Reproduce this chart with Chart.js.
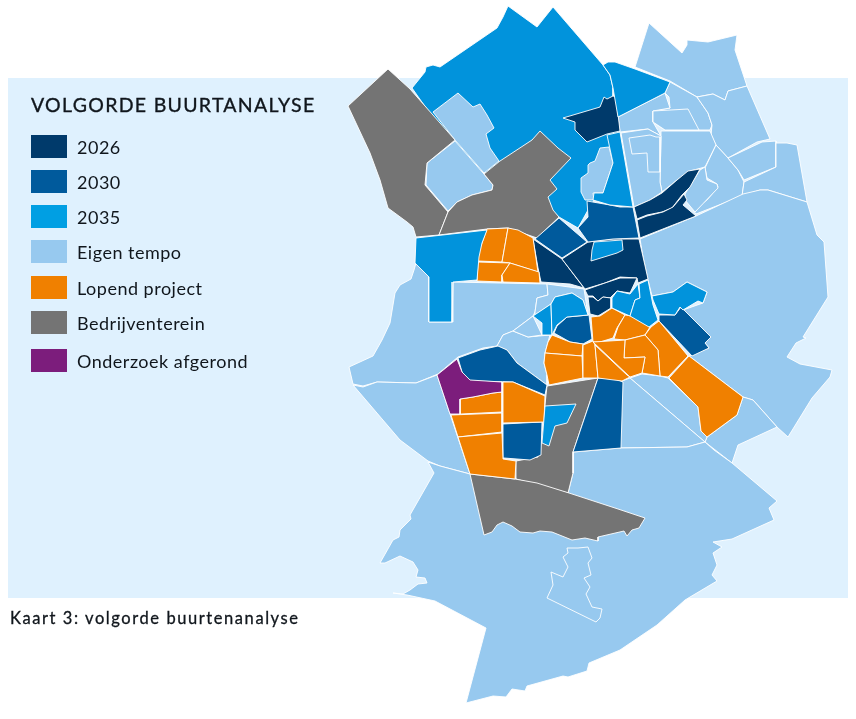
<!DOCTYPE html>
<html>
<head>
<meta charset="utf-8">
<title>Volgorde buurtanalyse</title>
<script src="https://cdn.jsdelivr.net/npm/chart.js@4"></script>
<style>
    html, body { margin: 0; background: #fff; }
    body { width: 856px; height: 719px; position: relative; overflow: hidden; font-family: Lato, sans-serif; color: #10161c; }
    .panel { position: absolute; left: 8px; top: 78px; width: 840px; height: 520px; background: #dff1fe; }
    canvas { position: absolute; left: 0; top: 0; }
    .title { position: absolute; left: 31px; top: 93px; font-size: 19.5px; font-weight: 400; -webkit-text-stroke: .35px #10161c; letter-spacing: 1.3px; line-height: 24px; white-space: nowrap; }
    .row { position: absolute; left: 31px; height: 23px; white-space: nowrap; }
    .row i { position: absolute; left: 0; top: 0; width: 36px; height: 23px; }
    .row span { position: absolute; left: 46px; top: 0; font-size: 18px; line-height: 24px; letter-spacing: .5px; }
    .caption { position: absolute; left: 10px; top: 608px; font-size: 16.5px; font-weight: 400; -webkit-text-stroke: .3px #10161c; line-height: 20px; letter-spacing: 1.57px; white-space: nowrap; }
</style>
</head>
<body>
<div class="panel"></div>
<canvas id="map" width="856" height="719"></canvas>
<div class="title" id="title"></div>
<div id="legend"></div>
<div class="caption" id="caption"></div>
<script>
const titleText = 'VOLGORDE BUURTANALYSE';
const captionText = 'Kaart 3: volgorde buurtenanalyse';
const categories = ['2026', '2030', '2035', 'Eigen tempo', 'Lopend project', 'Bedrijventerein', 'Onderzoek afgerond'];
const legendColors = ['#003a6b', '#005a9c', '#009fe3', '#97c9ef', '#f08000', '#747474', '#7c1d7c'];
const rowTops = [135, 170, 205, 240, 276, 311, 349];

// map outlines, x / y in map units
const base2035 = [
    [[412,88],[425,72],[426,67],[433,65],[440,67],[497,28],[503,17],[508,6],[537,27],[553,7],[603,65],[610,75],[613,88],[613,96],[620,133],[633,207],[610,205],[594,200],[588,210],[578,228],[559,217],[540,200],[480,170],[436,122]],
];
const areasEigen = [
    [[433,112],[458,93],[473,107],[480,104],[487,115],[494,128],[486,134],[490,148],[499,161],[484,173],[455,140]],
    [[455,141],[484,174],[493,185],[492,190],[472,195],[457,202],[448,211],[426,185],[427,163]],
    [[590,163],[595,161],[600,148],[609,147],[613,163],[605,187],[603,193],[593,193],[594,200],[585,200],[581,192],[581,178],[588,173],[588,165]],
    [[635,67],[649,23],[682,53],[687,45],[687,40],[708,42],[737,35],[735,50],[747,86],[728,91],[725,100],[713,94],[697,97],[670,81]],
    [[670,82],[697,97],[708,113],[712,125],[710,130],[665,130],[653,122],[653,111],[670,108],[669,97],[665,93]],
    [[618,117],[665,93],[670,108],[653,111],[653,122],[661,136],[648,129],[620,132]],
    [[653,111],[688,109],[699,130],[665,130],[653,122]],
    [[697,97],[713,94],[725,100],[728,91],[747,86],[770,139],[757,142],[728,158],[716,145],[711,135],[712,125],[708,113]],
    [[661,131],[710,131],[716,145],[705,167],[690,171],[677,180],[662,192],[660,182],[661,136]],
    [[621,133],[648,129],[661,136],[660,182],[662,192],[650,200],[634,207]],
    [[629,138],[650,135],[656,137],[660,137],[660,172],[648,172],[647,153],[632,154]],
    [[716,145],[728,158],[738,170],[744,182],[742,196],[696,214],[693,210],[707,200],[718,187],[717,184],[707,178],[705,168]],
    [[705,167],[707,180],[717,184],[718,188],[695,212],[685,200],[685,194],[700,170]],
    [[728,158],[762,142],[776,141],[776,167],[744,180],[738,170]],
    [[776,143],[787,143],[797,145],[807,202],[768,190],[760,190],[742,196],[744,182],[776,167]],
    [[640,239],[696,216],[743,194],[760,190],[768,190],[807,202],[817,235],[824,242],[828,297],[803,337],[806,338],[796,343],[787,357],[800,364],[832,370],[830,377],[812,398],[788,437],[777,427],[753,400],[743,397],[689,356],[709,348],[705,343],[711,337],[681,307],[683,310],[703,303],[707,292],[687,282],[673,292],[652,296],[648,280],[643,257]],
    [[743,397],[753,400],[777,427],[738,445],[732,463],[705,442],[707,437],[737,415]],
    [[630,378],[642,374],[660,376],[668,378],[698,407],[701,431],[707,437],[705,442]],
    [[622,381],[630,378],[705,442],[687,447],[620,448]],
    [[416,263],[429,277],[429,322],[452,322],[453,282],[547,284],[548,295],[537,298],[535,312],[533,316],[513,331],[503,335],[497,346],[483,348],[458,357],[438,374],[416,383],[377,382],[363,386],[353,384],[349,367],[373,356],[382,340],[390,323],[393,305],[395,293],[400,285],[411,279],[414,270]],
    [[353,385],[363,387],[377,382],[416,383],[437,375],[450,414],[470,474],[440,466],[428,461],[400,440]],
    [[497,346],[503,335],[513,331],[528,337],[550,335],[548,342],[545,353],[544,363],[547,375],[547,385],[517,363],[507,350]],
    [[513,331],[533,316],[542,335],[528,337]],
    [[548,295],[547,284],[584,289],[588,315],[583,300],[572,293],[555,297],[551,304],[535,315],[535,312],[537,298]],
    [[428,462],[434,473],[410,515],[411,519],[400,530],[399,537],[393,540],[380,563],[385,563],[400,556],[413,562],[418,570],[416,577],[425,578],[427,583],[418,584],[410,590],[403,594],[393,593],[407,595],[435,601],[486,628],[466,703],[493,696],[506,697],[512,689],[525,691],[527,686],[563,676],[568,677],[587,671],[589,663],[620,650],[657,625],[685,600],[717,581],[712,575],[717,565],[713,553],[722,547],[713,542],[732,539],[774,520],[769,508],[777,501],[732,463],[714,450],[705,442],[687,447],[620,448],[573,452],[573,473],[568,493],[470,474],[440,466]],
    [[567,548],[578,548],[588,547],[592,558],[588,563],[591,575],[584,578],[590,587],[586,594],[592,607],[602,609],[600,618],[596,622],[547,598],[553,585],[551,572],[563,577],[568,567],[563,557],[568,553]],
];
const areasBedrijf = [
    [[388,69],[410,89],[455,140],[427,163],[425,185],[448,212],[439,235],[416,237],[413,227],[407,222],[388,208],[380,180],[370,153],[348,106]],
    [[540,131],[558,148],[571,158],[550,180],[557,189],[548,197],[553,210],[559,217],[537,238],[508,228],[487,229],[439,235],[448,212],[457,202],[472,195],[492,190],[493,185],[484,174],[500,161],[532,140]],
    [[547,386],[598,378],[573,452],[573,473],[568,493],[516,479],[516,461],[538,457],[541,444],[545,405],[546,395]],
    [[470,474],[515,479],[537,483],[569,493],[618,509],[645,518],[639,528],[632,530],[627,536],[624,531],[598,537],[598,541],[585,538],[572,540],[552,532],[540,531],[533,533],[520,532],[512,526],[503,522],[497,525],[492,532],[484,535]],
];
const areas2026 = [
    [[563,118],[590,110],[600,107],[604,97],[607,99],[613,96],[616,97],[620,131],[607,134],[587,142],[575,130],[575,122]],
    [[634,207],[650,200],[662,193],[677,180],[688,171],[700,169],[690,187],[682,195],[672,208],[662,212],[647,215],[637,219]],
    [[637,220],[647,216],[663,212],[673,207],[684,194],[687,200],[683,205],[696,216],[640,238]],
    [[533,239],[562,259],[584,288],[570,284],[541,282],[538,268]],
    [[562,259],[588,242],[613,239],[639,239],[648,279],[638,283],[637,278],[620,277],[605,283],[585,289]],
    [[585,290],[605,283],[620,278],[637,278],[630,293],[617,291],[610,298],[603,297],[598,301],[593,296],[588,296]],
    [[588,297],[593,297],[598,301],[603,297],[611,298],[611,308],[598,316],[590,314]],
];
const areas2030 = [
    [[559,218],[587,242],[562,258],[535,239]],
    [[587,201],[610,205],[620,207],[633,207],[639,238],[613,239],[588,242],[578,228],[588,217]],
    [[659,315],[675,315],[681,307],[711,337],[705,343],[709,348],[692,356],[659,321]],
    [[557,326],[567,317],[589,315],[592,339],[583,344],[570,342],[554,333]],
    [[503,424],[542,422],[541,455],[530,460],[504,458]],
    [[598,378],[613,378],[623,382],[621,448],[573,452]],
    [[458,358],[480,350],[498,346],[507,350],[517,363],[547,385],[545,395],[513,382],[470,381],[465,377],[462,372]],
];
const areasLopend = [
    [[487,229],[508,228],[502,262],[478,261],[476,258],[482,243]],
    [[508,228],[518,230],[533,238],[538,272],[510,263],[502,262]],
    [[478,262],[510,263],[502,275],[502,282],[477,281]],
    [[510,263],[539,272],[540,283],[503,282],[502,275]],
    [[591,317],[600,316],[612,308],[625,315],[617,328],[613,338],[600,342],[593,342]],
    [[625,315],[632,316],[650,327],[645,335],[625,340],[614,339],[618,327]],
    [[659,321],[688,356],[668,377],[660,376],[658,350],[652,343],[645,335],[651,327]],
    [[645,335],[625,340],[624,358],[645,357],[642,373],[660,376],[658,350],[652,343]],
    [[552,335],[570,342],[583,344],[582,356],[545,353],[548,342]],
    [[545,353],[582,356],[583,378],[549,385],[547,375],[544,363]],
    [[583,345],[593,341],[595,345],[598,378],[583,378]],
    [[595,345],[627,375],[630,377],[622,381],[598,378]],
    [[593,342],[625,340],[624,358],[645,357],[642,373],[630,377]],
    [[689,356],[743,397],[737,415],[707,437],[701,431],[698,407],[669,378]],
    [[503,382],[513,382],[545,396],[544,422],[503,423]],
    [[460,399],[473,397],[493,393],[502,392],[502,412],[461,414]],
    [[451,415],[502,413],[502,432],[458,437]],
    [[458,437],[502,433],[503,459],[516,461],[515,479],[470,474]],
];
const areasOnderzoek = [
    [[437,375],[457,359],[462,372],[470,380],[502,382],[502,392],[493,393],[473,397],[460,399],[460,414],[450,414]],
];
const areas2035 = [
    [[416,238],[487,230],[482,243],[479,257],[477,280],[453,282],[452,322],[429,322],[429,277],[415,263]],
    [[607,135],[620,132],[633,207],[610,205],[593,200],[594,193],[603,193],[605,187],[613,163]],
    [[603,65],[608,62],[615,62],[635,69],[670,82],[665,93],[618,117],[613,88],[610,75]],
    [[594,242],[622,240],[623,250],[617,253],[591,261],[592,250]],
    [[612,308],[612,298],[617,291],[630,294],[638,284],[640,298],[635,300],[630,316],[623,313]],
    [[639,284],[648,280],[653,305],[658,320],[649,327],[630,316],[635,300],[640,298]],
    [[652,296],[673,292],[687,282],[707,292],[703,303],[698,301],[683,310],[680,307],[675,315],[659,314],[653,300]],
    [[533,316],[551,304],[552,335],[542,335],[542,323]],
    [[551,304],[555,297],[572,293],[583,300],[588,315],[567,317],[557,325],[552,335]],
    [[545,406],[576,404],[567,423],[555,426],[549,446],[542,443]],
];

const mapBlue = '#0193dc';

function toDataset(points, color) {
    const data = points.map(p => ({ x: p[0], y: p[1] }));
    data.push({ x: points[0][0], y: points[0][1] });
    return {
        data: data,
        showLine: true,
        fill: 'shape',
        backgroundColor: color,
        borderColor: '#ffffff',
        borderWidth: 0.9,
        pointRadius: 0,
        tension: 0,
    };
}

// painted in this order, so each layer sits on the one before it
const layers = [
    [base2035, mapBlue],
    [areasEigen, legendColors[3]],
    [areasBedrijf, legendColors[5]],
    [areas2026, legendColors[0]],
    [areas2030, legendColors[1]],
    [areasLopend, legendColors[4]],
    [areasOnderzoek, legendColors[6]],
    [areas2035, mapBlue],
];
let datasets = [];
layers.forEach(layer => {
    layer[0].forEach(points => datasets.push(toDataset(points, layer[1])));
});
// chart.js paints the first dataset last
datasets.reverse();

new Chart(document.getElementById('map'), {
    type: 'scatter',
    data: { datasets: datasets },
    options: {
        responsive: false,
        animation: false,
        layout: { padding: 0 },
        plugins: { legend: { display: false }, tooltip: { enabled: false } },
        scales: {
            x: { type: 'linear', min: 0, max: 856, display: false },
            y: { type: 'linear', min: 0, max: 719, reverse: true, display: false },
        },
    },
});

document.getElementById('title').textContent = titleText;
document.getElementById('caption').textContent = captionText;
const legend = document.getElementById('legend');
categories.forEach((name, i) => {
    const row = document.createElement('div');
    row.className = 'row';
    row.style.top = rowTops[i] + 'px';
    const swatch = document.createElement('i');
    swatch.style.background = legendColors[i];
    const label = document.createElement('span');
    label.textContent = name;
    row.appendChild(swatch);
    row.appendChild(label);
    legend.appendChild(row);
});
</script>
</body>
</html>
